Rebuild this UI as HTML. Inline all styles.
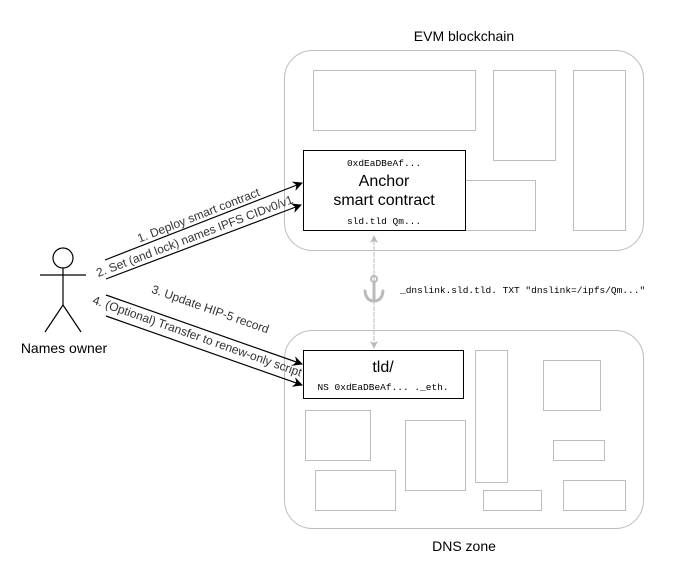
<!DOCTYPE html>
<html><head><style>body{margin:0;background:#fff}svg{display:block}</style></head><body>
<svg width="685" height="582" xmlns="http://www.w3.org/2000/svg" font-family="Liberation Sans, sans-serif">
<defs>
<marker id="a" markerWidth="10" markerHeight="10" refX="9" refY="5" orient="auto" markerUnits="userSpaceOnUse"><path d="M0,0 L10,5 L0,10 L3,5 z" fill="#000"/></marker>
<marker id="g" markerWidth="8" markerHeight="8" refX="7" refY="4" orient="auto" markerUnits="userSpaceOnUse"><path d="M0,0 L8,4 L0,8 L2,4 z" fill="#bbb"/></marker>
</defs>
<g fill="none" stroke="#bdbdbd" stroke-width="1">
<rect x="284.5" y="50.5" width="359" height="200" rx="28"/>
<rect x="284.5" y="330.5" width="359" height="198" rx="28"/>
<rect x="313.5" y="70.5" width="162" height="60"/>
<rect x="493.5" y="70.5" width="62" height="90"/>
<rect x="573.5" y="70.5" width="52" height="160"/>
<rect x="465.5" y="180.5" width="70" height="50"/>
<rect x="475.5" y="350.5" width="32" height="132"/>
<rect x="543.5" y="360.5" width="57" height="50"/>
<rect x="553.5" y="440.5" width="51" height="20"/>
<rect x="483.5" y="490.5" width="58" height="20"/>
<rect x="563.5" y="480.5" width="62" height="30"/>
<rect x="305.5" y="410.5" width="65" height="50"/>
<rect x="405.5" y="420.5" width="60" height="70"/>
<rect x="315.5" y="470.5" width="80" height="40"/>
</g>
<text x="464" y="41" font-size="14" text-anchor="middle">EVM blockchain</text>
<text x="464" y="551" font-size="14" text-anchor="middle">DNS zone</text>
<line x1="374" y1="345" x2="374" y2="236" stroke="#bbb" stroke-dasharray="3,3" marker-end="url(#g)"/>
<line x1="374" y1="236" x2="374" y2="348" stroke="#bbb" stroke-dasharray="3,3" marker-end="url(#g)"/>
<g stroke="#bbb" stroke-width="3" fill="none" stroke-linecap="round">
<circle cx="374" cy="279" r="3" stroke-width="2"/>
<line x1="374" y1="282" x2="374" y2="301"/>
<path d="M365,291 Q366,301 374,301 Q382,301 383,291"/>
</g>
<rect x="303.5" y="150.5" width="162" height="80" fill="#fff" stroke="#000"/>
<text x="384" y="166" font-size="9.5" font-family="Liberation Mono, monospace" text-anchor="middle">0xdEaDBeAf...</text>
<text x="384" y="186" font-size="16" text-anchor="middle">Anchor</text>
<text x="384" y="205" font-size="16" text-anchor="middle">smart contract</text>
<text x="384" y="224" font-size="9.5" font-family="Liberation Mono, monospace" text-anchor="middle">sld.tld Qm...</text>
<rect x="303.5" y="350.5" width="160" height="48" fill="#fff" stroke="#000"/>
<text x="383" y="372" font-size="16" text-anchor="middle">tld/</text>
<text x="383" y="390" font-size="9.5" font-family="Liberation Mono, monospace" text-anchor="middle">NS 0xdEaDBeAf... ._eth.</text>
<text x="400" y="293" font-size="9.5" font-family="Liberation Mono, monospace">_dnslink.sld.tld. TXT "dnslink=/ipfs/Qm..."</text>
<g stroke="#000" stroke-width="1.2">
<line x1="105" y1="260" x2="302" y2="183" marker-end="url(#a)"/>
<line x1="106" y1="279" x2="301" y2="205" marker-end="url(#a)"/>
<line x1="106" y1="295" x2="302" y2="364" marker-end="url(#a)"/>
<line x1="106" y1="316" x2="302" y2="385" marker-end="url(#a)"/>
</g>
<g font-size="12" fill="#333" text-anchor="middle">
<text transform="translate(200,219) rotate(-21.3)">1. Deploy smart contract</text>
<text transform="translate(196,240) rotate(-20.8)">2. Set (and lock) names IPFS CIDv0/v1</text>
<text transform="translate(209,313) rotate(19.4)">3. Update HIP-5 record</text>
<text transform="translate(196,340) rotate(19.4)">4. (Optional) Transfer to renew-only script</text>
</g>
<g stroke="#000" fill="none" stroke-width="1.2">
<circle cx="63" cy="258" r="10" fill="#fff"/>
<line x1="63" y1="268" x2="63" y2="305"/>
<line x1="40" y1="275" x2="86" y2="275"/>
<line x1="63" y1="305" x2="45" y2="332"/>
<line x1="63" y1="305" x2="81" y2="332"/>
</g>
<text x="64" y="353" font-size="14" text-anchor="middle">Names owner</text>
</svg>
</body></html>
